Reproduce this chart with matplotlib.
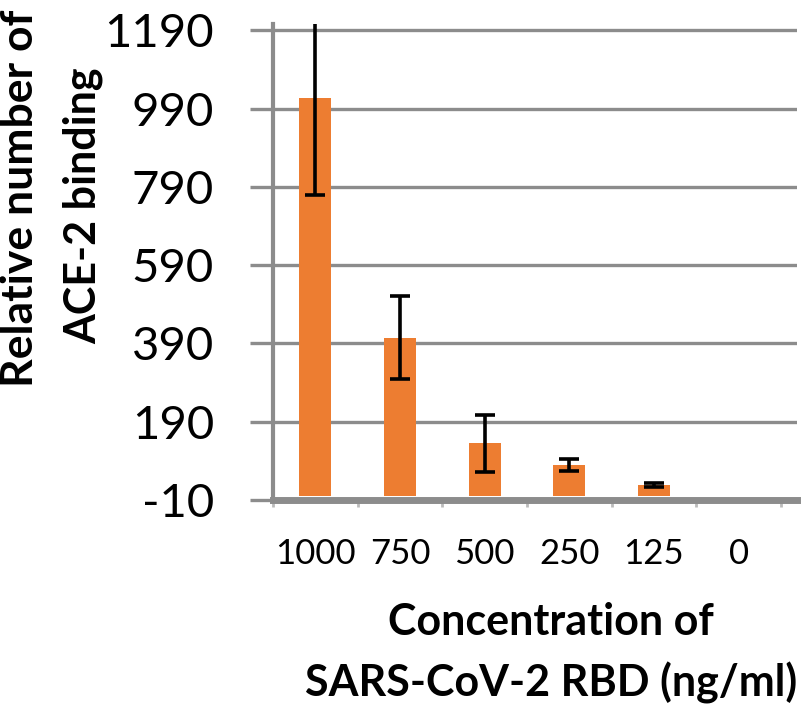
import numpy as np
import matplotlib
matplotlib.use("Agg")
import matplotlib.pyplot as plt
from matplotlib.ticker import FixedLocator

# data
concentrations = ["1000", "750", "500", "250", "125", "0"]
binding = [1018, 405, 135, 79, 28, 0]
binding_err = [248, 105, 73, 16, 5, 0]
y_ticks = [-10, 190, 390, 590, 790, 990, 1190]

plt.rcParams['font.family'] = ['Lato', 'DejaVu Sans']

W, H = 806, 706
fig = plt.figure(figsize=(W / 100, H / 100), dpi=100)
# axes box in pixel coords: left 273, right 797, top 24, bottom 500
ax = fig.add_axes([273 / W, (H - 500) / H, (797 - 273) / W, (500 - 24) / H])

x = np.arange(len(concentrations))
vals = np.array(binding, dtype=float)
errs = np.array(binding_err, dtype=float)
ax.bar(x, vals, width=0.38, color="#ED7D31", zorder=3)
# no error bar drawn where the error is zero
has_err = errs > 0
ax.errorbar(x[has_err], vals[has_err], yerr=errs[has_err], fmt="none",
            ecolor="black", elinewidth=2.6, capsize=7.2, capthick=2.6, zorder=4)

ax.set_ylim(-10, 1206)
ax.set_xlim(-0.5, len(concentrations) - 0.5 + 0.19)
ax.set_yticks(y_ticks)
ax.set_yticklabels([str(t) for t in y_ticks], fontsize=34)
ax.set_xticks(x)
ax.set_xticklabels(concentrations, fontsize=25)
ax.xaxis.set_minor_locator(FixedLocator(np.arange(len(concentrations) + 1) - 0.5))

grid_c = "#8C8C8C"
ax.grid(axis="y", color=grid_c, linewidth=2.4, zorder=0)
for s in ["top", "right"]:
    ax.spines[s].set_visible(False)
ax.spines["left"].set_color(grid_c)
ax.spines["left"].set_linewidth(3.0)
ax.spines["bottom"].set_color(grid_c)
ax.spines["bottom"].set_linewidth(5.0)
ax.spines["bottom"].set_zorder(5)

ax.tick_params(axis="y", length=16.5, width=2.4, color=grid_c, pad=26)
ax.tick_params(axis="x", which="major", length=0, pad=27)
ax.tick_params(axis="x", which="minor", length=5, width=2.0, color="#BBBBBB")

fig.text(20 / W, 1 - 198 / H, "Relative number of", rotation=90,
         ha="center", va="center", fontsize=32, fontweight="bold")
fig.text(83 / W, 1 - 206 / H, "ACE-2 binding", rotation=90,
         ha="center", va="center", fontsize=31, fontweight="bold")
fig.text(551 / W, 1 - 622 / H, "Concentration of",
         ha="center", va="center", fontsize=31, fontweight="bold")
fig.text(551 / W, 1 - 683 / H, "SARS-CoV-2 RBD (ng/ml)",
         ha="center", va="center", fontsize=31, fontweight="bold")

fig.savefig("out.png", dpi=100)
